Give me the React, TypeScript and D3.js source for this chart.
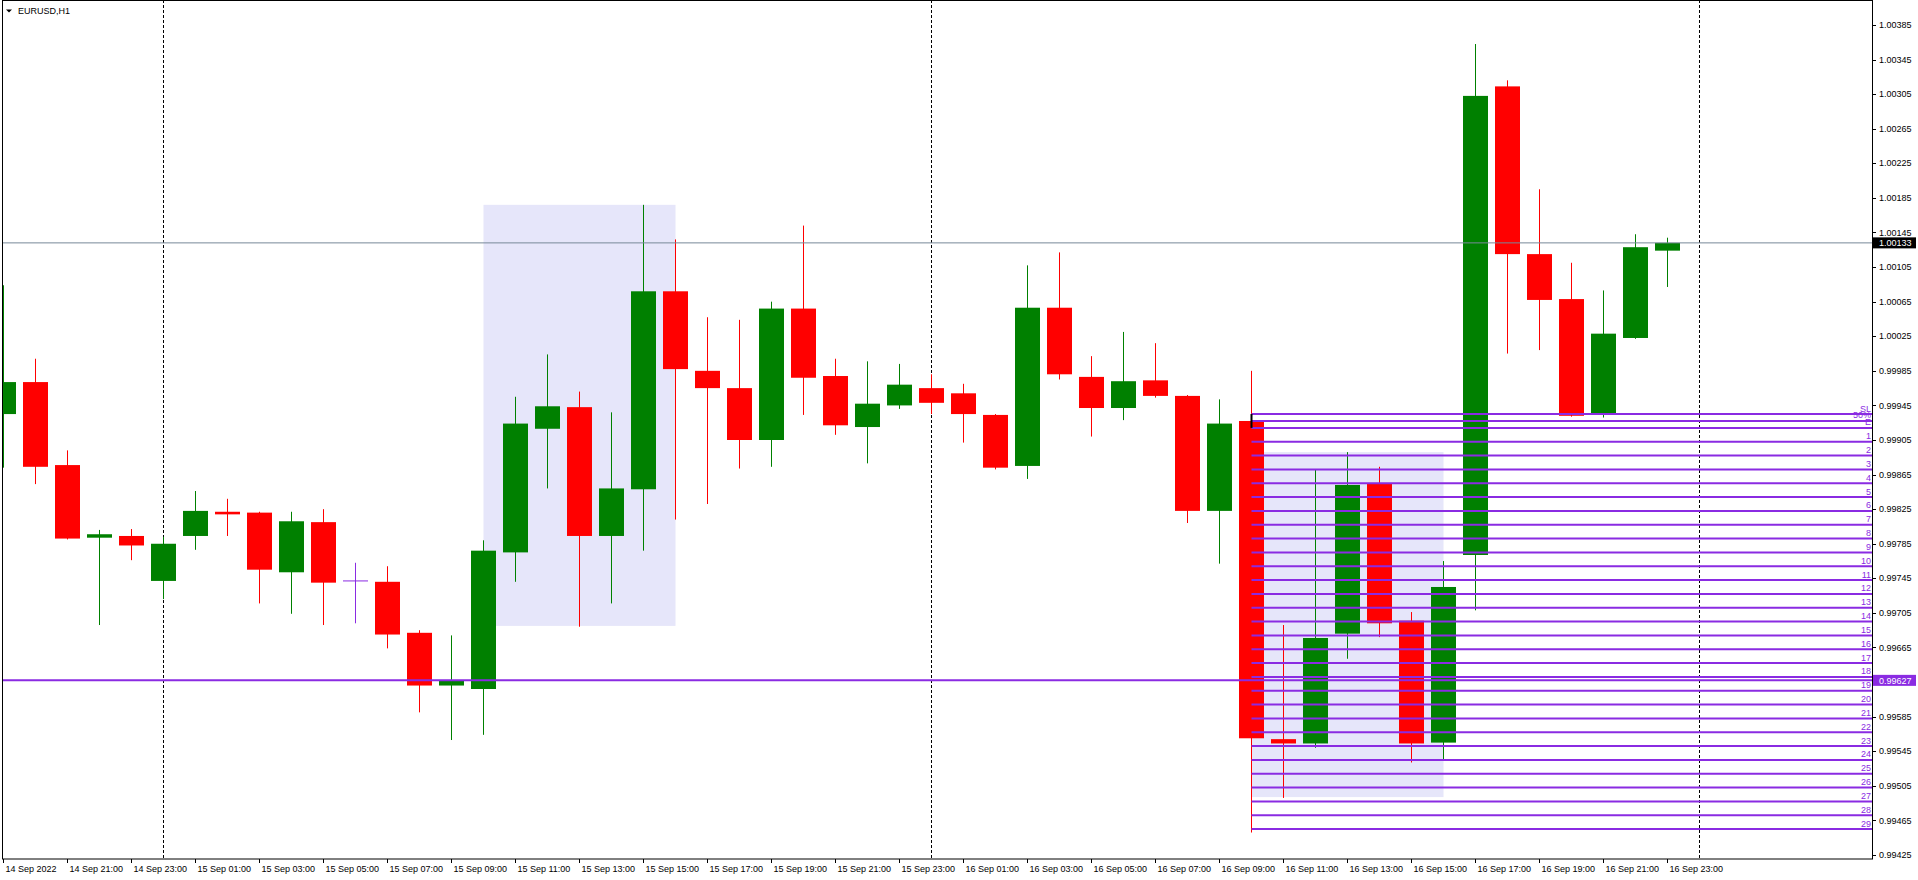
import * as d3 from 'd3'

// EURUSD H1, 14 Sep 2022 19:00 .. 16 Sep 2022 23:00
const firstBar = new Date(2022, 8, 14, 19)
const lastSlot = new Date(2022, 8, 17, 0)

const opens = [0.99935, 0.99972, 0.99876, 0.99792, 0.99794, 0.99742, 0.99794, 0.99822, 0.99821, 0.99752,
    0.99810, 0.99742, 0.99741, 0.99682, 0.99621, 0.99617, 0.99775, 0.99918, 0.99943, 0.99794,
    0.99848, 1.00077, 0.99985, 0.99965, 0.99905, 1.00057, 0.99979, 0.99920, 0.99945, 0.99965,
    0.99959, 0.99934, 0.99875, 1.00058, 0.99978, 0.99942, 0.99974, 0.99956, 0.99823, 0.99927,
    0.99559, 0.99554, 0.99681, 0.99855, 0.99696, 0.99555, 0.99772, 1.00314, 1.00120, 1.00068,
    0.99936, 1.00023, 1.00124]
const highs = [1.00084, 0.99999, 0.99893, 0.99801, 0.99802, 0.99793, 0.99846, 0.99837, 0.99822, 0.99822,
    0.99825, 0.99763, 0.99759, 0.99685, 0.99679, 0.99789, 0.99955, 1.00004, 0.99961, 0.99937,
    1.00177, 1.00137, 1.00047, 1.00044, 1.00065, 1.00153, 0.99999, 0.99996, 0.99993, 0.99981,
    0.99970, 0.99935, 1.00107, 1.00122, 1.00002, 1.00030, 1.00017, 0.99957, 0.99952, 0.99985,
    0.99691, 0.99871, 0.99891, 0.99874, 0.99706, 0.99765, 1.00363, 1.00321, 1.00195, 1.00110,
    1.00078, 1.00143, 1.00139]
const lows = [0.99873, 0.99854, 0.99790, 0.99691, 0.99766, 0.99721, 0.99778, 0.99794, 0.99716, 0.99704,
    0.99691, 0.99693, 0.99664, 0.99590, 0.99558, 0.99564, 0.99741, 0.99849, 0.99689, 0.99716,
    0.99777, 0.99813, 0.99831, 0.99872, 0.99874, 0.99934, 0.99911, 0.99878, 0.99941, 0.99935,
    0.99902, 0.99871, 0.99860, 0.99975, 0.99909, 0.99928, 0.99954, 0.99809, 0.99762, 0.99451,
    0.99491, 0.99549, 0.99652, 0.99677, 0.99532, 0.99534, 0.99708, 1.00005, 1.00009, 0.99932,
    0.99931, 1.00022, 1.00082]
const closes = [0.99972, 0.99874, 0.99791, 0.99796, 0.99783, 0.99785, 0.99823, 0.99819, 0.99755, 0.99811,
    0.99740, 0.99742, 0.99680, 0.99621, 0.99627, 0.99777, 0.99924, 0.99944, 0.99794, 0.99849,
    1.00077, 0.99987, 0.99965, 0.99905, 1.00057, 0.99977, 0.99922, 0.99947, 0.99969, 0.99948,
    0.99935, 0.99873, 1.00058, 0.99981, 0.99942, 0.99973, 0.99956, 0.99823, 0.99924, 0.99560,
    0.99554, 0.99676, 0.99853, 0.99693, 0.99554, 0.99735, 1.00303, 1.00120, 1.00067, 0.99933,
    1.00028, 1.00128, 1.00133]

const priceTicks = ['0.99425', '0.99465', '0.99505', '0.99545', '0.99585', '0.99625', '0.99665', '0.99705',
    '0.99745', '0.99785', '0.99825', '0.99865', '0.99905', '0.99945', '0.99985', '1.00025', '1.00065',
    '1.00105', '1.00145', '1.00185', '1.00225', '1.00265', '1.00305', '1.00345', '1.00385']

const bidPrice = 1.00133
const hLinePrice = 0.99627

const daySeparators = [new Date(2022, 8, 15), new Date(2022, 8, 16), new Date(2022, 8, 17)]

// shaded rectangles: [from, to, top price, bottom price]
const zones: [Date, Date, number, number][] = [
    [new Date(2022, 8, 15, 10), new Date(2022, 8, 15, 16), 1.00177, 0.99690],
    [new Date(2022, 8, 16, 10), new Date(2022, 8, 16, 16), 0.99891, 0.99492],
]

// level tool anchored at 16 Sep 10:00
const levelStart = new Date(2022, 8, 16, 10)
const levelNames = ['SL', '50%', 'E', '1', '2', '3', '4', '5', '6', '7', '8', '9', '10', '11', '12', '13',
    '14', '15', '16', '17', '18', '19', '20', '21', '22', '23', '24', '25', '26', '27', '28', '29']
const levelPrices = [0.99935, 0.99927, 0.99919, 0.99903, 0.99887, 0.99871, 0.99855, 0.99839, 0.99823,
    0.99807, 0.99791, 0.99775, 0.99759, 0.99743, 0.99727, 0.99711, 0.99695, 0.99679, 0.99663, 0.99647,
    0.99631, 0.99615, 0.99599, 0.99583, 0.99567, 0.99551, 0.99535, 0.99519, 0.99503, 0.99487, 0.99471,
    0.99455]

const W = 1918
const H = 880
const L = 2, R = 1872, B = 859
const font = '"Liberation Sans", Arial, sans-serif'
const purple = '#8A2BE2'

const App = () => {
    const x = d3.scaleTime().domain([firstBar, lastSlot]).range([3.5, 1699.5])
    const y = d3.scaleLinear().domain([0.99425, 1.00385]).range([855, 25])

    const bars = opens.map((o, i) => ({
        t: d3.timeHour.offset(firstBar, i), o, h: highs[i], l: lows[i], c: closes[i],
    }))
    const timeTicks = d3.timeHour.range(firstBar, lastSlot, 2)
    const fmt = d3.timeFormat('%d %b %H:%M')

    return (
        <svg width={W} height={H} style={{position: 'fixed', left: 0, top: 0, background: '#fff'}}
             fontFamily={font}>
            <defs>
                <clipPath id="plot">
                    <rect x={L + 1} y={1} width={R - L - 1} height={B - 1}/>
                </clipPath>
            </defs>
            <rect width={W} height={H} fill="#fff"/>

            <g clipPath="url(#plot)">
                {zones.map((z, i) => (
                    <rect key={i} x={x(z[0])} y={y(z[2])} width={x(z[1]) - x(z[0])}
                          height={y(z[3]) - y(z[2])} fill="#E6E6FA"/>
                ))}
                {daySeparators.map((d, i) => (
                    <line key={i} x1={Math.floor(x(d)) + 0.5} x2={Math.floor(x(d)) + 0.5} y1={0} y2={B}
                          stroke="#000" strokeDasharray="3,2"/>
                ))}

                {bars.map((b, i) => {
                    const cx = x(b.t)
                    const doji = b.o === b.c
                    const col = doji ? purple : b.c > b.o ? '#008000' : '#FF0000'
                    const top = y(Math.max(b.o, b.c))
                    const bot = y(Math.min(b.o, b.c))
                    return (
                        <g key={i}>
                            <rect x={cx - 0.5} y={y(b.h)} width={1} height={Math.max(1, y(b.l) - y(b.h))} fill={col}/>
                            <rect x={cx - 12.5} y={doji ? top - 0.5 : top} width={25}
                                  height={Math.max(1, bot - top)} fill={col}/>
                        </g>
                    )
                })}

                <line x1={L} x2={R} y1={y(bidPrice)} y2={y(bidPrice)} stroke="#778899"/>
                <line x1={L} x2={R} y1={y(hLinePrice)} y2={y(hLinePrice)} stroke={purple} strokeWidth={2}/>

                {levelPrices.map((p, i) => (
                    <g key={i}>
                        <line x1={x(levelStart)} x2={R} y1={y(p)} y2={y(p)} stroke={purple} strokeWidth={2}/>
                        <text x={R - 1} y={y(p) - 2.5} textAnchor="end" fontSize={9} fill={purple}>{levelNames[i]}</text>
                    </g>
                ))}
                <line x1={x(levelStart)} x2={x(levelStart)} y1={y(levelPrices[0])} y2={y(levelPrices[2])}
                      stroke="#000" strokeWidth={2}/>
            </g>

            {/* frame */}
            <rect x={L + 0.5} y={0.5} width={R - L} height={B - 0.5} fill="none" stroke="#000"/>

            {/* price axis */}
            {priceTicks.map(t => (
                <g key={t}>
                    <line x1={R} x2={R + 4} y1={Math.round(y(+t)) + 0.5} y2={Math.round(y(+t)) + 0.5} stroke="#000"/>
                    <text x={R + 7} y={y(+t)} dy="0.35em" fontSize={9} fill="#000">{t}</text>
                </g>
            ))}
            <rect x={R + 1} y={y(bidPrice) - 5.5} width={43} height={11} fill="#000"/>
            <text x={R + 7} y={y(bidPrice)} dy="0.35em" fontSize={9} fill="#fff">{bidPrice.toFixed(5)}</text>
            <rect x={R + 1} y={y(hLinePrice) - 5.5} width={43} height={11} fill={purple}/>
            <text x={R + 7} y={y(hLinePrice)} dy="0.35em" fontSize={9} fill="#fff">{hLinePrice.toFixed(5)}</text>

            {/* time axis */}
            {timeTicks.map((t, i) => (
                <g key={i}>
                    <line x1={Math.floor(x(t)) + 0.5} x2={Math.floor(x(t)) + 0.5} y1={B} y2={B + 4} stroke="#000"/>
                    <text x={x(t) + 2} y={B + 13} fontSize={9} fill="#000">
                        {i === 0 ? '14 Sep 2022' : fmt(t)}
                    </text>
                </g>
            ))}

            {/* title */}
            <path d="M6,9.5 L12,9.5 L9,12.5 Z" fill="#000"/>
            <text x={18} y={14} fontSize={9} fill="#000">EURUSD,H1</text>
        </svg>
    )
}

export default App
